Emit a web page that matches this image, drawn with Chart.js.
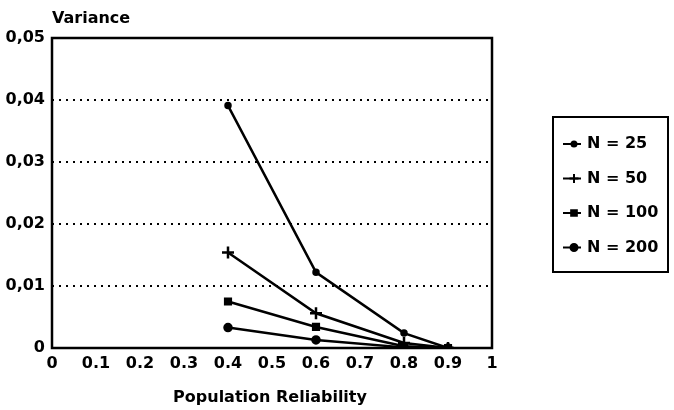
<!DOCTYPE html>
<html>
<head>
<meta charset="utf-8">
<script src="https://cdn.jsdelivr.net/npm/chart.js@4"></script>
<style>
  html, body { margin: 0; padding: 0; background: #fff; }
  #wrap { width: 674px; height: 410px; position: relative; }
</style>
</head>
<body>
<div id="wrap"><canvas id="chart" width="674" height="410"></canvas></div>
<script>
// values
const reliability = [0.4, 0.6, 0.8, 0.9];
const varN25  = [0.0391, 0.0122, 0.0024, 0];
const varN50  = [0.0154, 0.0056, 0.0008, 0];
const varN100 = [0.0075, 0.0034, 0.0003, 0];
const varN200 = [0.0033, 0.0013, 0.0001, 0];
const seriesLabels = ['N = 25', 'N = 50', 'N = 100', 'N = 200'];
const xTicks = [0, 0.1, 0.2, 0.3, 0.4, 0.5, 0.6, 0.7, 0.8, 0.9, 1];
const yTicks = [0, 0.01, 0.02, 0.03, 0.04, 0.05];
const yTickText = ['0', '0,01', '0,02', '0,03', '0,04', '0,05'];

const FAMILY = '"DejaVu Sans", Arial, sans-serif';
const FONT = 'bold 16px ' + FAMILY;
const markers = [
  { pointStyle: 'circle', radius: 2.5 },
  { pointStyle: 'cross', radius: 6 },
  { pointStyle: 'rect', radius: 4 },
  { pointStyle: 'circle', radius: 3.5 }
];

function pts(ys) { return reliability.map((x, i) => ({ x: x, y: ys[i] })); }

const datasets = [varN25, varN50, varN100, varN200].map((ys, i) => ({
  label: seriesLabels[i],
  data: pts(ys),
  borderColor: '#000',
  backgroundColor: '#000',
  borderWidth: 2.5,
  pointStyle: markers[i].pointStyle,
  pointRadius: markers[i].radius,
  pointBorderWidth: 2.5,
  tension: 0
}));

// frame, titles and boxed legend
const decor = {
  id: 'decor',
  afterDraw(chart) {
    const ctx = chart.ctx, a = chart.chartArea;
    ctx.save();
    ctx.strokeStyle = '#000';
    ctx.lineWidth = 2.5;
    ctx.strokeRect(a.left, a.top, a.right - a.left, a.bottom - a.top);

    ctx.fillStyle = '#000';
    ctx.font = FONT;
    ctx.textBaseline = 'middle';
    ctx.textAlign = 'left';
    ctx.fillText('Variance', 52, 19);
    ctx.textAlign = 'center';
    ctx.fillText('Population Reliability', 270, 398);

    // legend
    const lx = 553, ly = 117, lw = 115, lh = 155;
    ctx.lineWidth = 2;
    ctx.strokeRect(lx, ly, lw, lh);
    chart.data.datasets.forEach((ds, i) => {
      const y = 144 + i * 34.5;
      ctx.lineWidth = 2;
      ctx.beginPath();
      ctx.moveTo(563, y);
      ctx.lineTo(581, y);
      ctx.stroke();
      Chart.helpers.drawPoint(ctx, {
        pointStyle: ds.pointStyle, radius: Math.min(ds.pointRadius, 4.5), rotation: 0, borderWidth: 2
      }, 574, y);
      ctx.fill();
      ctx.textAlign = 'left';
      ctx.fillText(ds.label, 587, y);
    });
    ctx.restore();
  }
};

new Chart(document.getElementById('chart').getContext('2d'), {
  type: 'line',
  data: { datasets: datasets },
  options: {
    responsive: false,
    animation: false,
    layout: { padding: { left: 0, top: 38, right: 182, bottom: 0 } },
    plugins: { legend: { display: false }, tooltip: { enabled: false } },
    scales: {
      x: {
        type: 'linear', min: 0, max: 1,
        afterFit: s => { s.height = 62; },
        afterBuildTicks: s => { s.ticks = xTicks.map(v => ({ value: v })); },
        grid: { display: false, drawTicks: false },
        border: { display: false },
        ticks: {
          color: '#000', font: { family: FAMILY, size: 16, weight: 'bold' },
          padding: 6, maxRotation: 0, autoSkip: false,
          callback: v => String(v)
        }
      },
      y: {
        type: 'linear', min: 0, max: 0.05,
        afterFit: s => { s.width = 52; },
        afterBuildTicks: s => { s.ticks = yTicks.map(v => ({ value: v })); },
        grid: {
          drawTicks: false,
          color: c => (c.tick.value > 0.001 && c.tick.value < 0.049) ? '#000' : 'rgba(0,0,0,0)',
          lineWidth: 2
        },
        border: { display: false, dash: [2, 5] },
        ticks: {
          color: '#000', font: { family: FAMILY, size: 16, weight: 'bold' },
          padding: 7, autoSkip: false,
          callback: (v, i) => yTickText[i]
        }
      }
    }
  },
  plugins: [decor]
});
</script>
</body>
</html>
